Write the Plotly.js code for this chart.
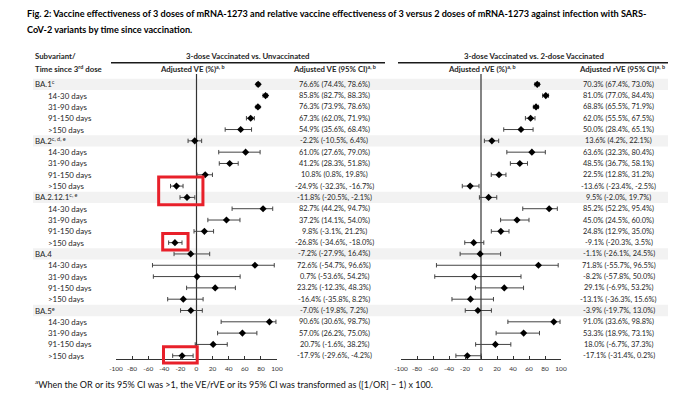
<!DOCTYPE html>
<html><head><meta charset="utf-8">
<script src="https://cdn.plot.ly/plotly-3.0.1.min.js"></script>
<style>body{margin:0;background:#fff}#chart{width:680px;height:411px}</style>
</head><body><div id="chart"></div>
<script>
// ---------------- data ----------------
const variants = ["BA.1", "BA.2", "BA.2.12.1", "BA.4", "BA.5"];
const variantNotes = ["c", "c, d, e", "c, e", "", "e"];
const periods = ["14-30 days", "31-90 days", "91-150 days", ">150 days"];

// rows: for each variant -> overall, then the 4 periods
const veEst = [76.6, 85.8, 76.3, 67.3, 54.9,  -2.2, 61.0, 41.2, 10.8, -24.9,  -11.8, 82.7, 37.2, 9.8, -26.8,  -7.2, 72.6, 0.7, 23.2, -16.4,  -7.0, 90.6, 57.0, 20.7, -17.9];
const veLo  = [74.4, 82.7, 73.9, 62.0, 35.6,  -10.5, 27.6, 28.3, 0.8, -32.3,  -20.5, 44.2, 14.1, -3.1, -34.6,  -27.9, -54.7, -53.6, -12.3, -35.8,  -19.8, 30.6, 26.2, -1.6, -29.6];
const veHi  = [78.6, 88.3, 78.6, 71.9, 68.4,  6.4, 79.0, 51.8, 19.8, -16.7,  -2.1, 94.7, 54.0, 21.2, -18.0,  16.4, 96.6, 54.2, 48.3, 8.2,  7.2, 98.7, 75.0, 38.2, -4.2];

const rveEst = [70.3, 81.0, 68.8, 62.0, 50.0,  13.6, 63.6, 48.5, 22.5, -13.6,  9.5, 85.2, 45.0, 24.8, -9.1,  -1.1, 71.8, -8.2, 29.1, -13.1,  -3.9, 91.0, 53.3, 18.0, -17.1];
const rveLo  = [67.4, 77.0, 65.5, 55.5, 28.4,  4.2, 32.3, 36.7, 12.8, -23.4,  -2.0, 52.2, 24.5, 12.9, -20.3,  -26.1, -55.7, -57.8, -6.9, -36.3,  -19.7, 33.6, 18.9, -6.7, -31.4];
const rveHi  = [73.0, 84.4, 71.9, 67.5, 65.1,  22.1, 80.4, 58.1, 31.2, -2.5,  19.7, 95.4, 60.0, 35.0, 3.5,  24.5, 96.5, 50.0, 53.2, 15.6,  13.0, 98.8, 73.1, 37.3, 0.2];

const tickVals = [-100, -80, -60, -40, -20, 0, 20, 40, 60, 80, 100];
const tickText = ["-100", "-80", "-60", "-40", "-20", "0", "20", "40", "60", "80", "100"];

// highlight boxes drawn on the reference (left panel): row index ranges
const highlights = [
  {rows: [9, 10], x0: -47, x1: 8},
  {rows: [14, 14], x0: -42, x1: -10.5},
  {rows: [24, 24], x0: -41, x1: 0.9}
];

// ---------------- geometry ----------------
const W = 680, H = 411;
const px = x => x / W;
const py = y => 1 - y / H;
const plotTop = 74, plotBottom = 359, row0 = 84.3, rowStep = 11.31;
const yRange = [(plotBottom - row0) / rowStep, (plotTop - row0) / rowStep];
const rowPx = r => row0 + r * rowStep;
const leftDom = [116 / W, 277 / W], rightDom = [401 / W, 561 / W];
const xToPaper = (x, dom) => dom[0] + (x + 100) / 200 * (dom[1] - dom[0]);

const FONT = "Lato, 'Noto Sans', sans-serif";
const TXT = "#262626";

// rows
const rowLabels = [], rowIsGroup = [];
variants.forEach((v, i) => {
  rowLabels.push(variantNotes[i] ? v + "<sup>" + variantNotes[i] + "</sup>" : v);
  rowIsGroup.push(true);
  periods.forEach(p => { rowLabels.push(p); rowIsGroup.push(false); });
});
const rows = rowLabels.map((_, i) => i);
const fmt = (e, l, h) => `${e.toFixed(1)}% (${l.toFixed(1)}%, ${h.toFixed(1)}%)`;

function forest(est, lo, hi, xa) {
  return {
    type: "scatter", mode: "markers", x: est, y: rows, xaxis: xa, yaxis: "y",
    marker: {symbol: "diamond", size: 5.5, color: "#000"},
    error_x: {type: "data", symmetric: false,
      array: est.map((e, i) => hi[i] - e), arrayminus: est.map((e, i) => e - lo[i]),
      color: "#444", thickness: 1, width: 2.2},
    hoverinfo: "skip", cliponaxis: false
  };
}

const traces = [forest(veEst, veLo, veHi, "x"), forest(rveEst, rveLo, rveHi, "x2")];

const shapes = [];
// grey bands for group rows
rows.forEach(r => {
  if (rowIsGroup[r]) shapes.push({type: "rect", layer: "below", xref: "paper", yref: "paper",
    x0: px(33), x1: px(668), y0: py(rowPx(r) - rowStep / 2), y1: py(rowPx(r) + rowStep / 2),
    fillcolor: "#f2f2f2", line: {width: 0}});
});
// zero lines
shapes.push({type: "line", layer: "below", xref: "x", yref: "paper", x0: 0, x1: 0, y0: py(plotBottom), y1: py(plotTop), line: {color: "#333", width: 1.2}});
shapes.push({type: "line", layer: "below", xref: "x2", yref: "paper", x0: 0, x1: 0, y0: py(plotBottom), y1: py(plotTop), line: {color: "#333", width: 1.2}});
// header rules
shapes.push({type: "line", xref: "paper", yref: "paper", x0: px(111), x1: px(385), y0: py(62.7), y1: py(62.7), line: {color: "#1a1a1a", width: 1.5}});
shapes.push({type: "line", xref: "paper", yref: "paper", x0: px(398), x1: px(668), y0: py(62.7), y1: py(62.7), line: {color: "#1a1a1a", width: 1.5}});
// highlight boxes
highlights.forEach(h => shapes.push({type: "rect", xref: "paper", yref: "paper",
  x0: xToPaper(h.x0, leftDom), x1: xToPaper(h.x1, leftDom),
  y0: py(rowPx(h.rows[0]) - 0.8 * rowStep), y1: py(rowPx(h.rows[1]) + 0.65 * rowStep),
  line: {color: "#e8202a", width: 3}, fillcolor: "rgba(0,0,0,0)"}));

const ann = [];
const A = (text, x, y, opts = {}) => ann.push(Object.assign({text, x: px(x), y: py(y), xref: "paper", yref: "paper",
  showarrow: false, xanchor: "left", yanchor: "middle", font: {family: FONT, size: 8, color: TXT}}, opts));

// title
const TF = {family: FONT, size: 9.15, color: "#000"};
A("<b>Fig. 2: Vaccine effectiveness of 3 doses of mRNA-1273 and relative vaccine effectiveness of 3 versus 2 doses of mRNA-1273 against infection with SARS-</b>", 25, 13.5, {font: TF});
A("<b>CoV-2 variants by time since vaccination.</b>", 25, 29.5, {font: TF});
// headers
const HF = {family: FONT, size: 7.8, color: TXT};
A("<b>Subvariant/</b>", 33, 55.7, {font: HF});
A("<b>Time since 3<sup>rd</sup> dose</b>", 33, 69.3, {font: HF});
A("<b>3-dose Vaccinated vs. Unvaccinated</b>", 248, 55.5, {font: HF, xanchor: "center"});
A("<b>Adjusted VE (%)<sup>a, b</sup></b>", 192, 69.5, {font: HF, xanchor: "center"});
A("<b>Adjusted VE (95% CI)<sup>a, b</sup></b>", 334, 69.5, {font: HF, xanchor: "center"});
A("<b>3-dose Vaccinated vs. 2-dose Vaccinated</b>", 534, 55.5, {font: HF, xanchor: "center"});
A("<b>Adjusted rVE (%)<sup>a, b</sup></b>", 482, 69.5, {font: HF, xanchor: "center"});
A("<b>Adjusted rVE (95% CI)<sup>a, b</sup></b>", 622, 69.5, {font: HF, xanchor: "center"});
// row labels and values
const VF = {family: FONT, size: 7.4, color: TXT};
rows.forEach(r => {
  A(rowLabels[r], rowIsGroup[r] ? 33 : 46, rowPx(r), {font: {family: FONT, size: 7.9, color: TXT}});
  A(fmt(veEst[r], veLo[r], veHi[r]), 334, rowPx(r), {xanchor: "center", font: VF});
  A(fmt(rveEst[r], rveLo[r], rveHi[r]), 618.5, rowPx(r), {xanchor: "center", font: VF});
});
// footnote
A("<sup>a</sup>When the OR or its 95% CI was >1, the VE/rVE or its 95% CI was transformed as ([1/OR] − 1) x 100.", 33, 384, {font: {family: FONT, size: 9, color: "#111"}});

const xBase = {range: [-100, 100], tickvals: tickVals, ticktext: tickText, ticks: "inside", ticklen: 3, tickcolor: "#333",
  showline: true, linecolor: "#333", linewidth: 1, showgrid: false, zeroline: false, anchor: "y",
  ticklabelstandoff: 3,
  tickfont: {family: FONT, size: 6.5, color: "#333"}, fixedrange: true};

const layout = {
  width: W, height: H, margin: {l: 0, r: 0, t: 0, b: 0}, showlegend: false,
  paper_bgcolor: "#fff", plot_bgcolor: "rgba(0,0,0,0)",
  xaxis: Object.assign({}, xBase, {domain: leftDom}),
  xaxis2: Object.assign({}, xBase, {domain: rightDom}),
  yaxis: {domain: [py(plotBottom), py(plotTop)], range: yRange, visible: false, fixedrange: true},
  shapes, annotations: ann
};
Plotly.newPlot("chart", traces, layout, {staticPlot: true, displayModeBar: false});
</script></body></html>
